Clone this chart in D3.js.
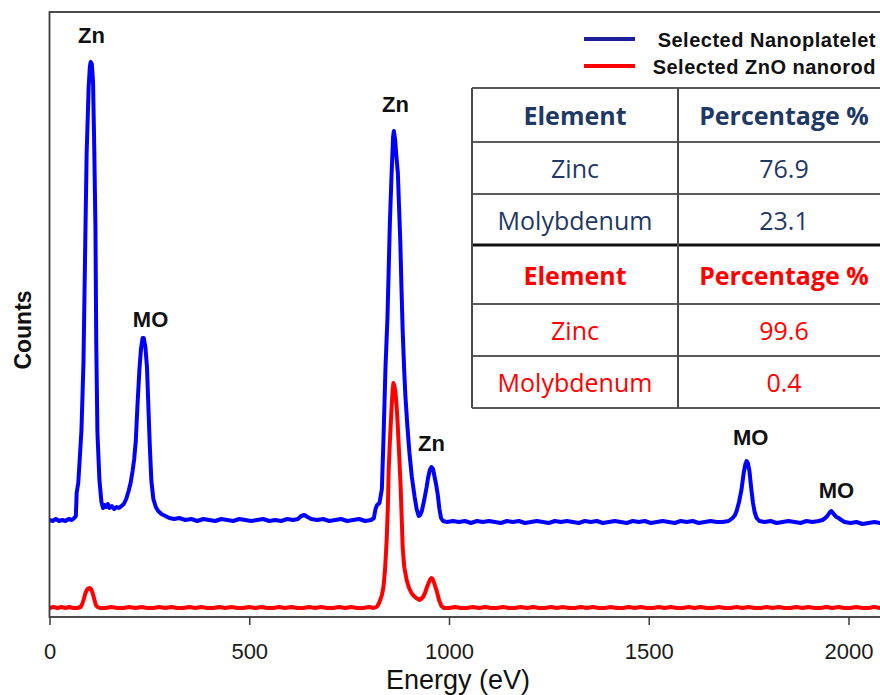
<!DOCTYPE html>
<html>
<head>
<meta charset="utf-8">
<script src="https://cdn.jsdelivr.net/npm/d3@7"></script>
<style>
    body { margin: 0; background: #fff; }
    #chart-area { width: 880px; height: 695px; overflow: hidden; }
</style>
</head>
<body>
<div id="chart-area"></div>
<script>

// EDS spectra: [energy (eV), counts]
let nanoplatelet = [
    [0,97],[8,96],[16,98],[24,96],[32,97],[40,96],[48,98],[56,97],[62,99],
    [66,101],[68,124],[72,134],[76,160],[80,187],[85,254],[90,387],[93,464],[98,530],[101,550],
    [103,555],[106,553],[109,535],[112,470],[115,390],[117,275],[120,184],[125,137],[130,115],
    [134,109],[138,112],[142,110],[146,113],[150,109],[156,111],[162,108],[168,110],[174,109],
    [180,111],[186,113],[192,118],[198,126],[203,134],[208,146],[212,158],[216,176],[220,210],
    [225,247],[229,268],[233,279],[236,279],[240,270],[244,250],[248,205],[251,172],[255,136],
    [260,118],[266,110],[272,106],[280,103],[290,101],[300,99],[312,98],[325,99],[340,97],
    [355,98],[370,96],[385,98],[400,97],[415,96],[430,98],[445,97],[460,96],[475,98],[490,97],
    [505,96],[520,97],[535,98],[550,96],[565,97],[580,96],[595,98],[610,97],[622,98],[630,101],
    [638,102],[646,100],[655,98],[670,97],[685,98],[700,96],[715,97],[730,98],[745,96],[760,97],
    [775,98],[790,96],[805,97],[812,99],[816,108],[820,112],[826,114],[832,128],[836,178],
    [841,249],[846,300],[852,394],[856,440],[860,480],[862,486],[865,478],[868,462],[872,444],
    [875,410],[878,377],[881,330],[884,287],[888,245],[891,220],[896,190],[901,164],[907,140],
    [914,120],[919,108],[924,101],[928,102],[932,106],[938,117],[944,130],[948,140],[952,147],
    [956,150],[960,148],[964,140],[968,132],[972,122],[976,108],[980,99],[985,96],[995,95],
    [1010,96],[1025,95],[1040,96],[1055,94],[1070,96],[1085,95],[1100,96],[1115,95],[1130,94],
    [1145,96],[1160,95],[1175,96],[1190,94],[1205,95],[1220,96],[1235,95],[1250,94],[1265,96],
    [1280,95],[1295,96],[1310,95],[1325,94],[1340,96],[1355,95],[1370,96],[1385,94],[1400,95],
    [1415,96],[1430,95],[1445,94],[1460,96],[1475,95],[1490,96],[1505,94],[1520,95],[1535,96],
    [1550,95],[1565,94],[1580,96],[1595,95],[1610,96],[1625,94],[1640,95],[1655,96],[1670,95],
    [1685,95],[1700,96],[1710,99],[1716,102],[1720,106],[1726,115],[1732,127],[1738,145],
    [1742,153],[1745,156],[1748,154],[1752,146],[1757,127],[1761,114],[1765,105],[1770,99],
    [1777,96],[1790,95],[1805,96],[1820,94],[1835,95],[1850,96],[1865,95],[1880,94],[1895,96],
    [1910,95],[1925,96],[1935,97],[1942,99],[1947,101],[1952,104],[1957,106],[1961,104],
    [1965,102],[1970,100],[1975,99],[1982,97],[1990,95],[2005,94],[2020,95],[2035,93],
    [2050,94],[2065,95],[2080,94],[2095,94]
];

let nanorod = [
    [0,9],[10,10],[20,9],[30,10],[40,9],[50,10],[60,9],[70,9],[78,10],[82,13],[86,18],[90,24],
    [95,28],[100,29],[104,28],[108,24],[112,18],[116,12],[120,10],[126,9],[140,9],[155,10],
    [170,9],[185,9],[200,10],[215,9],[230,10],[245,9],[260,9],[275,10],[290,9],[305,10],
    [320,9],[335,9],[350,10],[365,9],[380,10],[395,9],[410,9],[425,10],[440,9],[455,10],
    [470,9],[485,9],[500,10],[515,9],[530,10],[545,9],[560,9],[575,10],[590,9],[605,10],
    [620,9],[635,9],[650,10],[665,9],[680,10],[695,9],[710,9],[725,10],[740,9],[755,10],
    [770,9],[785,9],[800,10],[812,9],[818,10],[821,11],[825,14],[828,17],[832,22],[836,30],
    [840,48],[844,77],[847,110],[849,147],[852,175],[856,207],[859,228],[861,234],[864,230],
    [866,225],[869,210],[871,197],[875,165],[879,130],[882,95],[884,70],[888,50],[894,37],
    [900,29],[906,24],[912,21],[918,19],[922,18],[926,17],[930,18],[935,20],[940,24],[945,30],
    [949,34],[952,37],[956,39],[959,38],[962,35],[966,30],[970,25],[975,17],[981,11],[988,9],
    [1000,9],[1015,10],[1030,9],[1045,9],[1060,10],[1075,9],[1090,10],[1105,9],[1120,9],
    [1135,10],[1150,9],[1165,9],[1180,10],[1195,9],[1210,10],[1225,9],[1240,9],[1255,10],
    [1270,9],[1285,10],[1300,9],[1315,9],[1330,10],[1345,9],[1360,10],[1375,9],[1390,9],
    [1405,10],[1420,9],[1435,9],[1450,10],[1465,9],[1480,10],[1495,9],[1510,9],[1525,10],
    [1540,9],[1555,10],[1570,9],[1585,9],[1600,10],[1615,9],[1630,10],[1645,9],[1660,9],
    [1675,10],[1690,9],[1705,9],[1720,10],[1735,9],[1750,10],[1765,9],[1780,9],[1795,10],
    [1810,9],[1825,10],[1840,9],[1855,9],[1870,10],[1885,9],[1900,10],[1915,9],[1930,9],
    [1945,10],[1960,9],[1975,10],[1990,9],[2005,9],[2020,10],[2035,9],[2050,9],[2065,10],
    [2080,9],[2095,9]
];

let xTicks = [0, 500, 1000, 1500, 2000];

// peak annotations: label, energy and counts level of the label baseline
let peakLabels = [
    {label: "Zn", energy: 105, counts: 574},
    {label: "MO", energy: 253, counts: 290},
    {label: "Zn", energy: 866, counts: 505},
    {label: "Zn", energy: 956, counts: 166},
    {label: "MO", energy: 1755, counts: 172},
    {label: "MO", energy: 1970, counts: 119}
];

let legendNames = ["Selected Nanoplatelet", "Selected ZnO nanorod"];
let seriesColors = ["#0000ff", "#ff0000"];
let legendColors = ["#1f1f9a", "#ff0000"];

let tableHeader = ["Element", "Percentage %"];
let nanoplateletComp = [["Zinc", "76.9"], ["Molybdenum", "23.1"]];
let nanorodComp = [["Zinc", "99.6"], ["Molybdenum", "0.4"]];
let tableColors = ["#1f3864", "#ff0000"];


/* * * * * * * * * * * * * *
*     class SpectrumVis     *
* * * * * * * * * * * * * */

SpectrumVis = function(_parentElement) {
    this.parentElement = _parentElement;
    this.initVis();
};

SpectrumVis.prototype.initVis = function() {
    let vis = this;

    vis.width = 880;
    vis.height = 695;
    vis.plot = {left: 49.5, top: 12, bottom: 617};

    vis.svg = d3.select("#" + vis.parentElement).append("svg")
        .attr("width", vis.width)
        .attr("height", vis.height)
        .style("font-family", "Arial, 'Liberation Sans', sans-serif");

    vis.svg.append("defs")
        .append("clipPath")
        .attr("id", "clip")
        .append("rect")
        .attr("x", vis.plot.left)
        .attr("y", vis.plot.top)
        .attr("width", vis.width)
        .attr("height", vis.plot.bottom - vis.plot.top);

    // scales
    vis.x = d3.scaleLinear().domain([0, 2000]).range([vis.plot.left, 848.5]);
    vis.y = d3.scaleLinear().domain([0, 605]).range([vis.plot.bottom, vis.plot.top]);

    vis.line = d3.line()
        .x(d => vis.x(d[0]))
        .y(d => vis.y(d[1]));

    this.updateVis();
};

SpectrumVis.prototype.updateVis = function() {
    let vis = this;

    // spectra
    let lines = vis.svg.append("g").attr("clip-path", "url(#clip)");
    [nanoplatelet, nanorod].forEach((series, i) => {
        lines.append("path")
            .datum(series)
            .attr("d", vis.line)
            .attr("fill", "none")
            .attr("stroke", seriesColors[i])
            .attr("stroke-width", 4)
            .attr("stroke-linejoin", "round");
    });

    // frame (right side runs off the picture)
    vis.svg.append("rect")
        .attr("x", vis.plot.left)
        .attr("y", vis.plot.top)
        .attr("width", vis.width)
        .attr("height", vis.plot.bottom - vis.plot.top)
        .attr("fill", "none")
        .attr("stroke", "#3a3a3a")
        .attr("stroke-width", 1.8);

    // x axis
    let xAxis = vis.svg.append("g")
        .attr("transform", "translate(0," + vis.plot.bottom + ")")
        .call(d3.axisBottom(vis.x)
            .tickValues(xTicks)
            .tickFormat(d3.format("d"))
            .tickSize(8)
            .tickSizeOuter(0)
            .tickPadding(18));
    xAxis.select(".domain").remove();
    xAxis.selectAll("line").attr("stroke", "#3a3a3a").attr("stroke-width", 1.5);
    xAxis.selectAll("text")
        .attr("font-size", "22px")
        .attr("font-family", "Arial, 'Liberation Sans', sans-serif")
        .attr("fill", "#1a1a1a");

    vis.svg.append("text")
        .attr("x", 458)
        .attr("y", 689)
        .attr("text-anchor", "middle")
        .attr("font-size", "27px")
        .attr("fill", "#111")
        .text("Energy (eV)");

    vis.svg.append("text")
        .attr("transform", "translate(31,330) rotate(-90)")
        .attr("text-anchor", "middle")
        .attr("font-size", "23px")
        .attr("font-weight", "bold")
        .attr("fill", "#111")
        .text("Counts");

    // peak labels
    vis.svg.append("g").selectAll("text")
        .data(peakLabels)
        .enter().append("text")
        .attr("x", d => vis.x(d.energy))
        .attr("y", d => vis.y(d.counts))
        .attr("text-anchor", "middle")
        .attr("font-size", "22px")
        .attr("font-weight", "bold")
        .attr("fill", "#111")
        .text(d => d.label);

    // legend
    let legend = vis.svg.append("g");
    legendNames.forEach((name, i) => {
        let yPos = 39 + i * 27;
        legend.append("line")
            .attr("x1", 584).attr("x2", 635)
            .attr("y1", yPos).attr("y2", yPos)
            .attr("stroke", legendColors[i])
            .attr("stroke-width", 4);
        legend.append("text")
            .attr("x", 876)
            .attr("y", yPos + 3)
            .attr("dominant-baseline", "middle")
            .attr("text-anchor", "end")
            .attr("font-size", "20px")
            .attr("font-weight", "bold")
            .attr("letter-spacing", "0.5px")
            .attr("fill", "#111")
            .text(name);
    });

    this.drawTable();
};

// composition table in the upper right
SpectrumVis.prototype.drawTable = function() {
    let vis = this;

    let colX = [472, 678, 890];
    let rowY = [88, 142, 194, 245, 304, 356, 408];
    let rows = [
        {cells: tableHeader, color: tableColors[0], bold: true},
        {cells: nanoplateletComp[0], color: tableColors[0], bold: false},
        {cells: nanoplateletComp[1], color: tableColors[0], bold: false},
        {cells: tableHeader, color: tableColors[1], bold: true},
        {cells: nanorodComp[0], color: tableColors[1], bold: false},
        {cells: nanorodComp[1], color: tableColors[1], bold: false}
    ];

    let table = vis.svg.append("g");

    table.append("rect")
        .attr("x", colX[0]).attr("y", rowY[0])
        .attr("width", colX[2] - colX[0]).attr("height", rowY[6] - rowY[0])
        .attr("fill", "#fff");

    rowY.forEach((yPos, i) => {
        table.append("line")
            .attr("x1", colX[0]).attr("x2", colX[2])
            .attr("y1", yPos).attr("y2", yPos)
            .attr("stroke", i === 3 ? "#111" : "#5a5a5a")
            .attr("stroke-width", i === 3 ? 3 : 2);
    });
    colX.forEach(xPos => {
        table.append("line")
            .attr("x1", xPos).attr("x2", xPos)
            .attr("y1", rowY[0]).attr("y2", rowY[6])
            .attr("stroke", "#4a4a4a")
            .attr("stroke-width", 2);
    });

    rows.forEach((row, i) => {
        row.cells.forEach((cell, j) => {
            table.append("text")
                .attr("x", (colX[j] + colX[j + 1]) / 2)
                .attr("y", (rowY[i] + rowY[i + 1]) / 2 + 10)
                .attr("text-anchor", "middle")
                .attr("font-family", "'Open Sans', sans-serif")
                .attr("font-size", "25px")
                .attr("font-weight", row.bold ? "bold" : "normal")
                .attr("fill", row.color)
                .text(cell);
        });
    });
};

let mySpectrumVis = new SpectrumVis("chart-area");

</script>
</body>
</html>
